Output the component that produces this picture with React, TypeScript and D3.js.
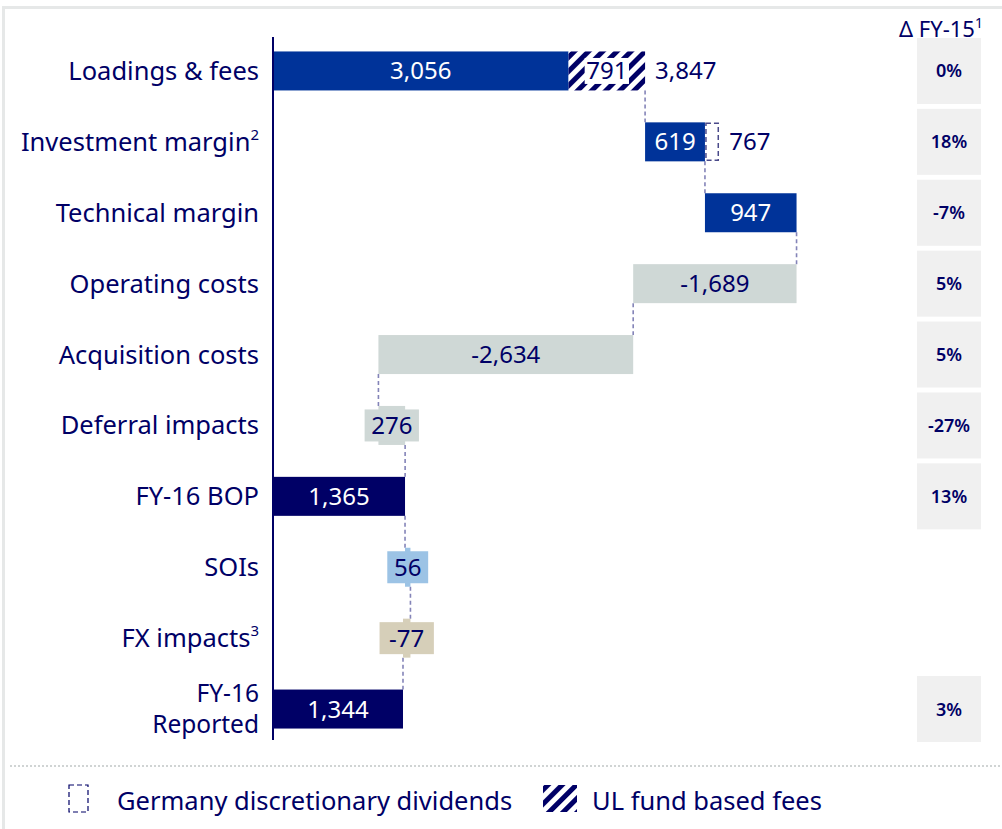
import React from "react";
import * as d3 from "d3";

const categories = ["Loadings & fees", "Investment margin", "Technical margin", "Operating costs", "Acquisition costs", "Deferral impacts", "FY-16 BOP", "SOIs", "FX impacts", "FY-16 Reported"];
const superscripts = ["", "2", "", "", "", "", "", "", "3", ""];
const values = [3056, 619, 947, -1689, -2634, 276, 1365, 56, -77, 1344];
const ulFundFees = [791, 0, 0, 0, 0, 0, 0, 0, 0, 0];
const germanyDividends = [0, 148, 0, 0, 0, 0, 0, 0, 0, 0];
const totalLabels = ["3,847", "767", "", "", "", "", "", "", "", ""];
const kinds = ["growth", "growth", "growth", "cost", "cost", "cost", "total", "soi", "fx", "total"];
const deltaFY15 = ["0%", "18%", "-7%", "5%", "5%", "-27%", "13%", "", "", "3%"];

const NAVY = "#000066";
const BLUE = "#003399";
const colorOf: Record<string, string> = {
  growth: BLUE,
  cost: "#cfd8d6",
  total: NAVY,
  soi: "#9cc3e5",
  fx: "#d6cfb9",
};
const FONT = "'Noto Sans', sans-serif";
const fmt = (v: number) => d3.format(",")(v).replace("\u2212", "-");

export default function App() {
  const x = d3.scaleLinear().domain([0, 6000]).range([273, 273 + 6000 * 0.09672]);
  const y = d3.scaleBand<string>().domain(categories).range([35.5, 744.5]).paddingInner(0.45).paddingOuter(0.225);
  const bh = y.bandwidth();

  let running = 0;
  const rows = categories.map((c, i) => {
    const start = kinds[i] === "total" ? 0 : running;
    const end = start + values[i];
    const hatchEnd = end + ulFundFees[i];
    const dashEnd = hatchEnd + germanyDividends[i];
    running = kinds[i] === "total" ? values[i] : hatchEnd;
    return { c, i, start, end, hatchEnd, dashEnd, running };
  });

  const approxW = (s: string, fs: number) => s.length * fs * 0.56;

  return (
    <svg width={1002} height={829} style={{ position: "absolute", left: 0, top: 0, fontFamily: FONT }}>
      <defs>
        <pattern id="hatch" patternUnits="userSpaceOnUse" width={10} height={10} patternTransform="rotate(45)">
          <rect width={10} height={10} fill="#fff" />
          <rect x={0} y={0} width={5} height={10} fill={NAVY} />
        </pattern>
      </defs>
      <rect x={2} y={6} width={1000} height={3} fill="#e6e8e8" />
      <rect x={2} y={6} width={3} height={823} fill="#e6e8e8" />

      <text x={941} y={37} textAnchor="middle" fontSize={22} fill={NAVY}>
        {"\u0394 FY-15"}
        <tspan fontSize={14} dy={-9}>1</tspan>
      </text>
      {deltaFY15.map((d, i) =>
        d ? (
          <g key={"d" + i}>
            <rect x={917} y={(y(categories[i]) as number) + bh / 2 - 33} width={64} height={66} fill="#f0f0f0" />
            <text x={949} y={(y(categories[i]) as number) + bh / 2 + 6.5} textAnchor="middle" fontSize={18} fontWeight={600} fill={NAVY}>
              {d}
            </text>
          </g>
        ) : null
      )}

      {rows.slice(0, -1).map((r) => (
        <line
          key={"c" + r.i}
          x1={x(r.running)}
          x2={x(r.running)}
          y1={(y(r.c) as number) + bh}
          y2={y(categories[r.i + 1]) as number}
          stroke="#8484b8"
          strokeWidth={1.6}
          strokeDasharray="4 3"
        />
      ))}

      {rows.map((r) => {
        const top = y(r.c) as number;
        const cy = top + bh / 2;
        const x0 = x(Math.min(r.start, r.end));
        const x1 = x(Math.max(r.start, r.end));
        const col = colorOf[kinds[r.i]];
        const small = x1 - x0 < 40;
        const label = fmt(values[r.i]);
        const lightText = kinds[r.i] === "growth" || kinds[r.i] === "total";
        const lw = approxW(label, 24) + 14;
        return (
          <g key={"b" + r.i}>
            <rect x={x0} y={top} width={x1 - x0} height={bh} fill={col} />
            {small && <rect x={(x0 + x1) / 2 - lw / 2} y={cy - 16} width={lw} height={32} fill={col} />}
            <text x={(x0 + x1) / 2} y={cy + 8.5} textAnchor="middle" fontSize={24} fill={lightText ? "#fff" : NAVY}>
              {label}
            </text>
            {ulFundFees[r.i] > 0 && (
              <g>
                <rect x={x(r.end)} y={top} width={x(r.hatchEnd) - x(r.end)} height={bh} fill="url(#hatch)" />
                <rect
                  x={(x(r.end) + x(r.hatchEnd)) / 2 - approxW(fmt(ulFundFees[r.i]), 24) / 2 - 2}
                  y={cy - 13}
                  width={approxW(fmt(ulFundFees[r.i]), 24) + 4}
                  height={26}
                  fill="#fff"
                />
                <text x={(x(r.end) + x(r.hatchEnd)) / 2} y={cy + 8.5} textAnchor="middle" fontSize={24} fill={NAVY}>
                  {fmt(ulFundFees[r.i])}
                </text>
              </g>
            )}
            {germanyDividends[r.i] > 0 && (
              <rect
                x={x(r.hatchEnd) + 1}
                y={top + 1}
                width={x(r.dashEnd) - x(r.hatchEnd) - 2}
                height={bh - 2}
                fill="#fff"
                stroke="#4a4a8a"
                strokeWidth={1.5}
                strokeDasharray="5 3"
              />
            )}
            {totalLabels[r.i] && (
              <text x={x(r.dashEnd) + 10} y={cy + 8.5} fontSize={24} fill={NAVY}>
                {totalLabels[r.i]}
              </text>
            )}
          </g>
        );
      })}

      <line x1={273} x2={273} y1={37} y2={740} stroke={NAVY} strokeWidth={2} />

      {categories.map((c, i) => {
        const cy = (y(c) as number) + bh / 2;
        if (c === "FY-16 Reported") {
          return (
            <g key={"l" + i}>
              <text x={259} y={cy - 7} textAnchor="end" fontSize={24.5} fill={NAVY}>FY-16</text>
              <text x={259} y={cy + 24} textAnchor="end" fontSize={24.5} fill={NAVY}>Reported</text>
            </g>
          );
        }
        return (
          <text key={"l" + i} x={259} y={cy + 9} textAnchor="end" fontSize={25.5} fill={NAVY}>
            {c}
            {superscripts[i] && (
              <tspan fontSize={15} dy={-11}>
                {superscripts[i]}
              </tspan>
            )}
          </text>
        );
      })}

      <line x1={10} x2={1000} y1={766} y2={766} stroke="#d0d4d4" strokeWidth={2} strokeDasharray="2 2" />
      <rect x={69} y={785} width={19} height={27} fill="#fff" stroke={NAVY} strokeWidth={1.2} strokeDasharray="5 3" />
      <text x={117} y={810} fontSize={25.5} fill={NAVY}>Germany discretionary dividends</text>
      <rect x={543} y={785} width={34} height={27} fill="url(#hatch)" />
      <text x={592} y={810} fontSize={25.5} fill={NAVY}>UL fund based fees</text>
    </svg>
  );
}
